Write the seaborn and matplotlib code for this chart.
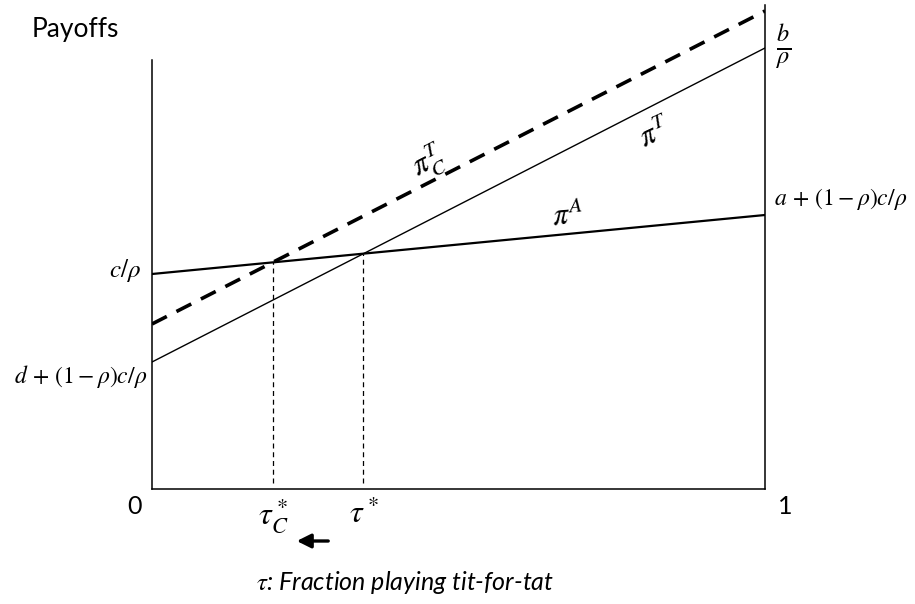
import numpy as np
import pandas as pd
import matplotlib
matplotlib.use("Agg")
import matplotlib.pyplot as plt
import seaborn as sns

# Fraction playing tit-for-tat at the two ends of the axis
tau = [0.0, 1.0]
# Payoff lines (arbitrary payoff units) at tau = 0 and tau = 1
pi_A = [2.15, 2.74]      # always-defect payoff
pi_T = [1.27, 4.41]      # tit-for-tat payoff
pi_CT = [1.65, 4.78]     # tit-for-tat payoff with cost reduction
# Threshold fractions
tau_star = 0.345
tau_c_star = 0.197

sns.set_theme(style="white")
plt.rcParams["font.family"] = ["Lato", "DejaVu Sans"]
plt.rcParams["mathtext.fontset"] = "stix"

df = pd.DataFrame({"tau": tau, "pi_A": pi_A, "pi_T": pi_T, "pi_CT": pi_CT})

fig = plt.figure(figsize=(9.15, 6.04), dpi=100)
ax = fig.add_axes([152 / 915, 115 / 604, 613 / 915, 489 / 604])

sns.lineplot(data=df, x="tau", y="pi_A", ax=ax, color="black", lw=1.6)
sns.lineplot(data=df, x="tau", y="pi_T", ax=ax, color="black", lw=1.0)
sns.lineplot(data=df, x="tau", y="pi_CT", ax=ax, color="black", lw=2.6,
             dashes=False)
ax.lines[-1].set_dashes((4.6, 3.0))

# Vertical guides down from the crossings
for t in (tau_c_star, tau_star):
    y_cross = np.interp(t, tau, pi_A)
    ax.plot([t, t], [0.06, y_cross], color="black", lw=0.9,
            linestyle=(0, (4, 3)))

ax.set_xlim(0, 1)
ax.set_ylim(0, 4.89)
ax.set_xticks([])
ax.set_yticks([])
ax.set_xlabel("")
ax.set_ylabel("")
ax.spines["top"].set_visible(False)
for s in ("left", "right", "bottom"):
    ax.spines[s].set_color("black")
    ax.spines[s].set_linewidth(1.1)
ax.spines["left"].set_bounds(0, 4.29)
ax.spines["right"].set_bounds(0, 4.84)
ax.spines["bottom"].set_bounds(0, 1)

def dx(px):
    return (px - 152) / 613

def dy(py):
    return (489 - py) / 100

kw = dict(color="black", clip_on=False)

# Axis end labels
ax.text(dx(134), dy(506), "0", ha="center", va="center", fontsize=18, **kw)
ax.text(dx(785), dy(506), "1", ha="center", va="center", fontsize=18, **kw)
ax.text(dx(273), dy(516), r"$\tau_C^*$", ha="center", va="center", fontsize=23, **kw)
ax.text(dx(364), dy(514), r"$\tau^*$", ha="center", va="center", fontsize=23, **kw)

# Direction arrow
ax.annotate("", xy=(dx(294), dy(541)), xytext=(dx(331), dy(541)),
            arrowprops=dict(arrowstyle="-|>,head_length=0.7,head_width=0.35",
                            color="black", lw=2.4),
            annotation_clip=False)

ax.text(dx(405), dy(583), r"$\tau$: Fraction playing tit-for-tat",
        ha="center", va="center", fontsize=18, style="italic", **kw)

# Intercept labels
ax.text(dx(141), dy(270), r"$c/\rho$", ha="right", va="center", fontsize=18, **kw)
ax.text(dx(147), dy(376), r"$d\,+\,(1-\rho)c/\rho$", ha="right", va="center",
        fontsize=17, **kw)
ax.text(dx(774), dy(199), r"$a\,+\,(1-\rho)c/\rho$", ha="left", va="center",
        fontsize=17, **kw)
ax.text(dx(784), dy(47), r"$\frac{b}{\rho}$", ha="center", va="center",
        fontsize=25, **kw)

# Line labels
ax.text(dx(428), dy(162), r"$\pi_C^T$", ha="center", va="center", fontsize=22,
        rotation=27, **kw)
ax.text(dx(655), dy(132), r"$\pi^T$", ha="center", va="center", fontsize=22,
        rotation=25, **kw)
ax.text(dx(568), dy(214), r"$\pi^A$", ha="center", va="center", fontsize=22,
        rotation=5, **kw)

fig.text(75 / 915, 1 - 30 / 604, "Payoffs", ha="center", va="center",
         fontsize=19, color="black")

fig.savefig("out.png", dpi=100, facecolor="white")
